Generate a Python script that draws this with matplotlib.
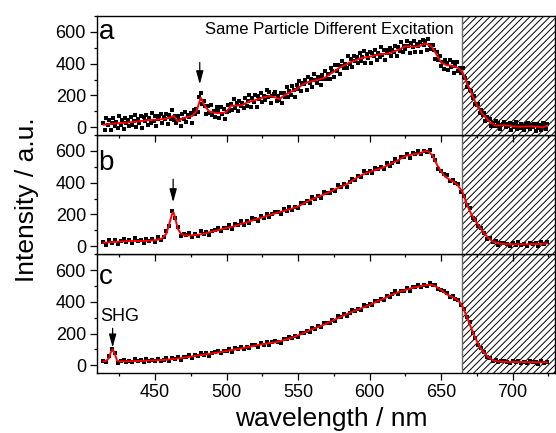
import numpy as np
import matplotlib
matplotlib.use('Agg')
import matplotlib.pyplot as plt
from matplotlib.ticker import MultipleLocator

plt.rcParams['font.family'] = ['Liberation Sans', 'DejaVu Sans']
plt.rcParams['hatch.linewidth'] = 0.7

# measured spectra: panel a every 1 nm, panels b and c every 2 nm
wl_a = np.arange(414, 725, 1)
wl = np.arange(414, 725, 2)

pts_a = [27, -15, 55, 12, 45, -21, 25, 56, 5, 32,
         -3, 69, 14, 46, -10, 57, 25, 44, 8, 67,
         12, 39, 75, 0, 53, 28, 68, -5, 62, 41,
         78, 16, 55, 29, 89, 40, 72, 9, 51, 68,
         86, 28, 67, 50, 84, 19, 78, 50, 111, 45,
         68, 29, 68, 45, 6, 80, 51, 97, 31, 76,
         65, 90, 26, 110, 81, 117, 93, 190, 215, 147,
         167, 132, 80, 133, 91, 139, 78, 102, 62, 125,
         101, 58, 126, 82, 115, 50, 98, 141, 104, 143,
         108, 179, 123, 155, 99, 167, 136, 155, 123, 185,
         133, 164, 201, 128, 182, 159, 200, 129, 198, 178,
         217, 157, 197, 173, 235, 187, 220, 155, 194, 209,
         224, 162, 195, 173, 212, 153, 218, 193, 253, 187,
         226, 204, 259, 233, 192, 263, 239, 291, 229, 280,
         271, 298, 235, 313, 276, 305, 255, 333, 300, 277,
         319, 304, 266, 331, 303, 355, 303, 336, 305, 373,
         356, 319, 393, 356, 394, 333, 384, 419, 372, 400,
         370, 446, 395, 430, 376, 446, 417, 439, 406, 468,
         414, 442, 479, 405, 458, 434, 474, 402, 470, 449,
         487, 426, 467, 443, 503, 453, 485, 423, 465, 483,
         501, 447, 487, 473, 509, 446, 507, 478, 539, 473,
         513, 492, 543, 512, 467, 533, 502, 545, 476, 521,
         510, 535, 471, 549, 515, 545, 488, 558, 520, 491,
         516, 486, 431, 474, 423, 450, 386, 408, 366, 425,
         402, 358, 426, 381, 411, 341, 383, 410, 355, 371,
         338, 370, 315, 312, 256, 275, 236, 226, 184, 199,
         145, 141, 148, 88, 105, 77, 90, 36, 65, 42,
         54, 10, 27, 5, 36, 6, 25, -12, 12, 23,
         34, -1, 20, 8, 26, -15, 18, -2, 30, -13,
         7, -8, 23, 6, -21, 20, 1, 28, -14, 11,
         3, 17, -23, 21, -3, 12, -20, 25, 4, -9,
         21]

pts_b = [26, 10, 41, 21, 37, 11, 31, 44, 24, 38,
         22, 51, 30, 42, 18, 46, 34, 43, 28, 57,
         37, 58, 97, 126, 222, 176, 122, 62, 80, 68,
         82, 57, 75, 65, 93, 76, 92, 72, 95, 105,
         116, 95, 117, 114, 131, 108, 137, 131, 158, 134,
         156, 148, 175, 169, 157, 189, 180, 206, 183, 206,
         215, 214, 201, 232, 225, 250, 231, 249, 238, 274,
         270, 288, 270, 309, 300, 318, 305, 343, 336, 333,
         355, 346, 383, 370, 393, 374, 402, 426, 417, 441,
         435, 473, 459, 477, 459, 491, 484, 499, 488, 522,
         507, 527, 550, 528, 559, 559, 582, 556, 587, 581,
         598, 578, 602, 593, 606, 570, 545, 484, 472, 456,
         447, 410, 417, 396, 392, 339, 319, 262, 242, 178,
         165, 126, 116, 83, 48, 53, 26, 36, 8, 19,
         20, 15, -1, 20, 10, 26, 6, 16, 2, 23,
         13, 20, 0, 25, 13, 24]

pts_c = [28, 19, 59, 100, 75, 15, 25, 33, 19, 29,
         18, 38, 25, 34, 19, 38, 29, 36, 24, 42,
         27, 36, 48, 27, 44, 38, 51, 34, 54, 51,
         64, 48, 62, 57, 76, 66, 76, 61, 76, 83,
         91, 77, 92, 89, 101, 86, 106, 101, 118, 102,
         117, 111, 129, 125, 116, 138, 130, 148, 131, 145,
         150, 149, 142, 165, 163, 181, 170, 184, 180, 206,
         204, 218, 207, 235, 231, 246, 239, 268, 265, 266,
         284, 280, 309, 302, 321, 310, 331, 346, 339, 356,
         351, 378, 371, 386, 379, 406, 405, 418, 413, 439,
         432, 448, 465, 450, 471, 469, 486, 471, 494, 492,
         505, 491, 506, 501, 519, 503, 505, 478, 476, 465,
         457, 431, 436, 419, 413, 378, 354, 303, 270, 205,
         173, 129, 109, 81, 52, 48, 29, 36, 18, 25,
         26, 23, 13, 26, 20, 29, 17, 22, 14, 27,
         20, 23, 11, 25, 17, 22]

# smoothed curves (red)
fit_a_x = [414, 420, 425, 430, 435, 440, 445, 450, 455, 460, 463, 466, 469, 472, 476, 479,
           482, 485, 488, 492, 496, 500, 503, 507, 511, 515, 520, 525, 530, 534, 537, 541,
           545, 549, 553, 557, 561, 565, 569, 572, 576, 579, 583, 586, 590, 593, 597, 600,
           604, 607, 611, 614, 618, 621, 625, 629, 632, 636, 639, 643, 646, 650, 654, 658,
           662, 665, 668, 672, 675, 679, 684, 688, 695, 700, 705, 710, 714, 718, 721, 724]
fit_a = [15, 22, 25, 28, 33, 38, 44, 47, 50, 58, 72, 35, 55, 62, 70, 100,
         185, 130, 98, 90, 88, 95, 135, 135, 140, 158, 170, 185, 196, 188, 176, 205,
         222, 238, 268, 283, 292, 302, 312, 333, 355, 375, 392, 407, 420, 432, 440, 444,
         452, 459, 462, 465, 480, 490, 510, 508, 507, 515, 528, 511, 470, 407, 390, 386,
         373, 344, 278, 197, 137, 82, 33, 10, 12, 6, 2, 5, 4, 2, -2, 10]

fit_b_x = [414, 418, 422, 426, 430, 435, 440, 445, 450, 455, 458, 460, 462, 463, 464, 466,
           468, 471, 475, 480, 485, 490, 495, 500, 505, 510, 515, 520, 525, 530, 535, 540,
           545, 550, 555, 560, 565, 570, 575, 580, 585, 590, 595, 600, 605, 610, 615, 620,
           625, 630, 635, 639, 641, 644, 647, 650, 653, 656, 659, 662, 665, 668, 671, 674,
           677, 680, 683, 686, 690, 695, 700, 705, 710, 715, 720, 724]
fit_b = [22, 25, 27, 30, 32, 33, 33, 34, 38, 48, 80, 140, 205, 212, 180, 110,
         80, 68, 68, 72, 80, 93, 103, 115, 125, 140, 153, 168, 182, 196, 210, 222,
         235, 250, 275, 297, 315, 333, 355, 375, 395, 425, 451, 468, 482, 498, 520, 542,
         568, 578, 585, 600, 598, 572, 515, 470, 437, 420, 405, 380, 340, 265, 203, 160,
         118, 82, 52, 30, 18, 13, 12, 12, 12, 13, 15, 18]

fit_c_x = [414, 416, 418, 419, 420.5, 422, 423.5, 425, 430, 435, 440, 445, 450, 455, 460, 465,
           470, 475, 480, 485, 490, 495, 500, 505, 510, 515, 520, 525, 530, 535, 540, 545,
           550, 555, 560, 565, 570, 575, 580, 585, 590, 595, 600, 605, 610, 615, 620, 625,
           630, 635, 640, 643, 646, 650, 653, 656, 660, 663, 665, 668, 671, 674, 677, 680,
           683, 686, 690, 695, 700, 710, 720, 724]
fit_c = [25, 28, 48, 80, 100, 68, 30, 24, 25, 26, 28, 30, 31, 33, 37, 42,
         48, 55, 62, 68, 75, 82, 90, 98, 106, 115, 124, 133, 140, 146, 158, 172,
         188, 208, 227, 245, 263, 285, 306, 326, 345, 362, 380, 402, 420, 443, 460, 475,
         488, 497, 506, 507, 498, 475, 452, 438, 420, 398, 370, 305, 235, 170, 115, 80,
         50, 32, 24, 22, 21, 20, 19, 19]

letters = ['a', 'b', 'c']
letter_y = [0.81, 0.71, 0.75]
# arrows: x, tail, head
arrows = [(481.3, 407, 270), (462.7, 422, 277), (420.4, 233, 112)]
cutoff = 664.6

fig, axes = plt.subplots(3, 1, sharex=True, figsize=(5.56, 4.33), dpi=100)
fig.subplots_adjust(left=0.174, right=0.998, bottom=0.138, top=0.963, hspace=0)

data = [(wl_a, pts_a, fit_a_x, fit_a), (wl, pts_b, fit_b_x, fit_b), (wl, pts_c, fit_c_x, fit_c)]
for i, ax in enumerate(axes):
    px, pts, fx, fy = data[i]
    ax.set_zorder(3 - i)
    ax.axvspan(cutoff, 740, facecolor='white', edgecolor='black', hatch='/////',
               linewidth=0, zorder=0)
    ax.axvline(cutoff, color='0.4', lw=1.0, zorder=1)
    ax.plot(px, pts, 's', color='black', ms=2.4, mew=0, zorder=2)
    ax.plot(fx, fy, '-', color='red', lw=1.4, zorder=3)
    ax.set_xlim(409.3, 729.5)
    ax.set_ylim(-50, 700)
    ax.yaxis.set_major_locator(MultipleLocator(200))
    ax.yaxis.set_minor_locator(MultipleLocator(100))
    ax.xaxis.set_major_locator(MultipleLocator(50))
    ax.xaxis.set_minor_locator(MultipleLocator(25))
    ax.tick_params(which='both', direction='out', top=False, right=False,
                   labelsize=13, width=0.9, pad=3)
    ax.tick_params(which='major', length=4.8)
    ax.tick_params(which='minor', length=2.5)
    for s in ax.spines.values():
        s.set_linewidth(1.0)
    ax.text(0.004, letter_y[i], letters[i], transform=ax.transAxes, fontsize=20,
            va='baseline', ha='left')
    x, tail, head = arrows[i]
    ax.annotate('', xy=(x, head), xytext=(x, tail),
                arrowprops=dict(arrowstyle='-|>,head_length=0.8,head_width=0.22',
                                color='black', lw=0.9, shrinkA=0, shrinkB=0,
                                mutation_scale=10))

axes[0].text(572, 585, 'Same Particle Different Excitation', ha='center',
             va='baseline', fontsize=12)
axes[2].text(411.5, 277, 'SHG', fontsize=13, va='baseline', ha='left')

fig.text(0.048, 0.539, 'Intensity / a.u.', rotation=90, ha='center', va='center',
         fontsize=19)
fig.text(0.595, 0.016, 'wavelength / nm', ha='center', va='baseline', fontsize=19)

fig.savefig('out.png', dpi=100, facecolor='white')
